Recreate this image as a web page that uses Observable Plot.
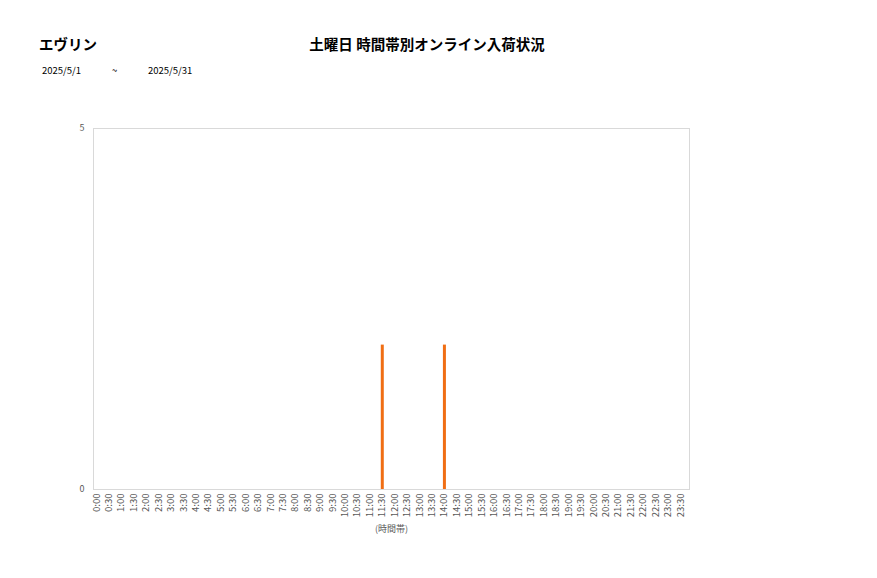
<!DOCTYPE html>
<html><head><meta charset="utf-8">
<script src="https://cdn.jsdelivr.net/npm/d3@7"></script>
<script src="https://cdn.jsdelivr.net/npm/@observablehq/plot@0.6"></script>
<style>
body{margin:0;background:#fff;font-family:"Noto Sans CJK JP","Noto Sans",sans-serif;}
#wrap{position:relative;width:877px;height:578px;overflow:hidden;}
.t{position:absolute;white-space:nowrap;color:#000;}
#chart{position:absolute;left:0;top:0;}
</style></head>
<body>
<div id="wrap">
<div id="chart"></div>
<div class="t" style="left:39px;top:33px;font-size:14.5px;font-weight:bold;">エヴリン</div>
<div class="t" style="left:427px;top:33px;font-size:14.5px;font-weight:bold;transform:translateX(-50%);">土曜日 時間帯別オンライン入荷状況</div>
<div class="t" style="left:42px;top:63px;font-size:9.5px;">2025/5/1</div>
<div class="t" style="left:112px;top:63px;font-size:9.5px;">~</div>
<div class="t" style="left:148px;top:63px;font-size:9.5px;">2025/5/31</div>
</div>
<script>
const times = ["0:00","0:30","1:00","1:30","2:00","2:30","3:00","3:30","4:00","4:30","5:00","5:30","6:00","6:30","7:00","7:30","8:00","8:30","9:00","9:30","10:00","10:30","11:00","11:30","12:00","12:30","13:00","13:30","14:00","14:30","15:00","15:30","16:00","16:30","17:00","17:30","18:00","18:30","19:00","19:30","20:00","20:30","21:00","21:30","22:00","22:30","23:00","23:30"];
const counts = [0,0,0,0,0,0,0,0,0,0,0,0,0,0,0,0,0,0,0,0,0,0,0,2,0,0,0,0,2,0,0,0,0,0,0,0,0,0,0,0,0,0,0,0,0,0,0,0];
const yTicks = [0,5];
const data = times.map((t,i)=>({i, time:t, count:counts[i]}));
const chart = Plot.plot({
  width:877, height:578,
  marginTop:128, marginBottom:89, marginLeft:93, marginRight:188,
  style:{fontFamily:'"Noto Sans CJK JP","Noto Sans",sans-serif', background:"#fff"},
  x:{type:"linear", domain:[0, times.length-1], range:[96,680]},
  y:{domain:[0,5]},
  marks:[
    Plot.frame({stroke:"#d9d9d9"}),
    Plot.axisY({ticks:yTicks, tickFormat:"d", tickSize:0, tickPadding:9, label:null, fontSize:9, color:"#595959"}),
    Plot.axisX({ticks:d3.range(times.length), tickFormat:i=>times[i], tickSize:0, tickRotate:-90, tickPadding:4, fontSize:9.5, color:"#595959", label:null}),
    Plot.text(["(時間帯)"],{frameAnchor:"bottom", dy:42, fontSize:9, fill:"#595959"}),
    Plot.ruleX(data.filter(d=>d.count>0),{x:"i", y1:0, y2:"count", stroke:"#f06e14", strokeWidth:3})
  ]
});
document.getElementById("chart").appendChild(chart);
</script>
</body></html>
